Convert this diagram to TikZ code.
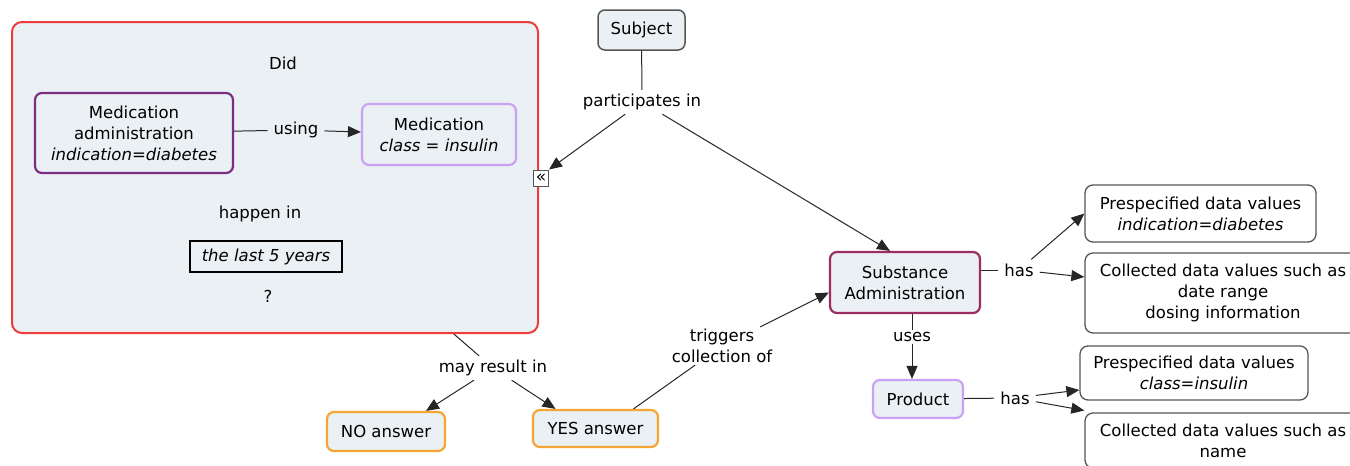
\documentclass[tikz,border=0pt]{standalone}
\usepackage{fontspec}
\setmainfont{DejaVu Sans}
\usetikzlibrary{arrows.meta,calc}
\definecolor{bgfill}{HTML}{EAF0F3}
\definecolor{redb}{HTML}{EE3B3B}
\definecolor{darkpurp}{HTML}{7B2D82}
\definecolor{lightpurp}{HTML}{C9A2F5}
\definecolor{maroon}{HTML}{9B2D5F}
\definecolor{orangeb}{HTML}{F4A533}
\definecolor{grayb}{HTML}{555555}
\tikzset{
  every node/.style={font=\fontsize{16.5}{21}\selectfont, align=center},
  concept/.style={draw, rounded corners=7pt, line width=2.2pt, fill=bgfill, inner sep=2pt},
  valuebox/.style={draw=grayb, rounded corners=8pt, line width=1.3pt, fill=white, inner sep=2pt},
  phrase/.style={inner xsep=6pt, inner ysep=4pt},
  conn/.style={line width=1pt, draw=black!85},
  arr/.style={conn, -{Triangle[length=13pt,width=11pt]}},
}
\begin{document}
\begin{tikzpicture}[x=1pt,y=-1pt]
\useasboundingbox (0,0) rectangle (1350,466);
\clip (0,0) rectangle (1350,466);
% big nested box
\node[draw=redb, line width=2pt, rounded corners=10pt, fill=bgfill, minimum width=526pt, minimum height=311pt, inner sep=0pt] (big) at (275,177.5) {};
\node[phrase] (did) at (283,63) {Did};
\node[concept, draw=darkpurp, minimum width=198pt, minimum height=80pt] (medadm) at (134,133) {Medication\\administration\\\textit{indication=diabetes}};
\node[phrase] (using) at (296,130) {using};
\node[concept, draw=lightpurp, minimum width=154pt, minimum height=61pt] (medins) at (439,134.5) {Medication\\\textit{class = insulin}};
\node[phrase] (happen) at (260,214) {happen in};
\node[draw=black, line width=2.2pt, fill=bgfill, minimum width=152pt, minimum height=31pt, inner sep=1pt] (years) at (266,256.5) {\textit{the last 5 years}};
\node[phrase] (q) at (268,296) {?};
\node[draw=grayb, line width=1pt, fill=white, minimum width=15pt, minimum height=16pt, inner sep=0pt, font=\fontsize{17}{17}\selectfont] (ic) at (541,178) {«};
% subject side
\node[concept, draw=grayb, line width=1.5pt, minimum width=87pt, minimum height=40pt] (subj) at (641.5,30) {Subject};
\node[phrase] (part) at (642,102) {participates in};
\node[concept, draw=maroon, minimum width=150pt, minimum height=61pt] (subst) at (905,282.5) {Substance\\Administration};
\node[phrase] (has1) at (1019,270) {has};
\node[valuebox, minimum width=231pt, minimum height=57pt] (pre1) at (1200.5,213.5) {Prespecified data values\\\textit{indication=diabetes}};
\node[valuebox, minimum width=276pt, minimum height=80pt] (col1) at (1223,293) {Collected data values such as\\date range\\dosing information};
\node[phrase, inner ysep=2pt] (uses) at (912,337) {uses};
\node[concept, draw=lightpurp, minimum width=90pt, minimum height=38pt] (prod) at (918,399) {Product};
\node[phrase] (has2) at (1015,398) {has};
\node[valuebox, minimum width=228pt, minimum height=54pt] (pre2) at (1194,373) {Prespecified data values\\\textit{class=insulin}};
\node[valuebox, minimum width=276pt, minimum height=55pt] (col2) at (1223,440.5) {Collected data values such as\\name};
% answers
\node[phrase] (may) at (493,368) {may result in};
\node[concept, draw=orangeb, minimum width=118pt, minimum height=39pt] (no) at (386,431.5) {NO answer};
\node[concept, draw=orangeb, minimum width=125pt, minimum height=37pt] (yes) at (595.5,428.5) {YES answer};
\node[phrase, inner sep=2pt] (trig) at (722,346) {triggers\\collection of};
% connectors
\draw[conn] (medadm) -- (using);
\draw[arr] (using) -- (medins);
\draw[conn] (subj) -- (part);
\draw[arr] (part) -- (ic.north east);
\draw[arr] (part) -- ($(subst.north)+(-15,0)$);
\draw[conn] (subst.east |- has1) -- (has1);
\draw[arr] (has1) -- (pre1.west);
\draw[arr] (has1) -- ($(col1.west)+(0,-16)$);
\draw[conn] (subst.south -| uses) -- (uses);
\draw[arr] (uses) -- (prod.north -| uses);
\draw[conn] (prod) -- (has2);
\draw[arr] (has2) -- ($(pre2.west)+(0,17)$);
\draw[arr] (has2) -- ($(col2.west)+(0,-30)$);
\draw[conn] (big) -- (may);
\draw[arr] (may) -- ($(no.north)+(40,0)$);
\draw[arr] (may) -- ($(yes.north)+(-40,0)$);
\draw[conn] ($(yes.north)+(38,0)$) -- (trig);
\draw[arr] (trig) -- ($(subst.west)+(0,10)$);
\end{tikzpicture}
\end{document}
